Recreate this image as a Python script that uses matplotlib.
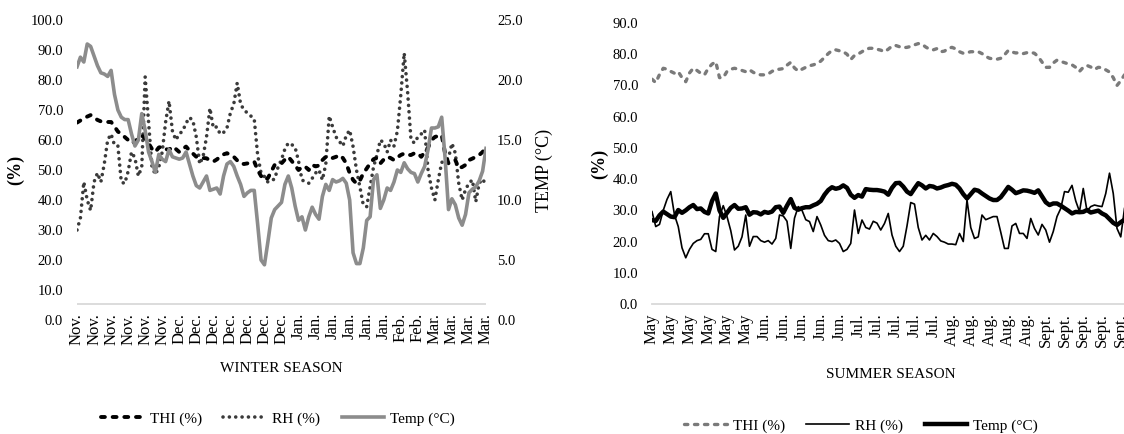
import matplotlib
matplotlib.use('Agg')
import matplotlib.pyplot as plt
import numpy as np
from matplotlib.ticker import FormatStrFormatter

plt.rcParams['font.family'] = ['Liberation Serif', 'DejaVu Serif']

# ---------------- DATA ----------------
winter_labels = ['Nov.'] * 6 + ['Dec.'] * 7 + ['Jan.'] * 6 + ['Feb.'] * 2 + ['Mar.'] * 4
summer_labels = ['May'] * 6 + ['Jun.'] * 5 + ['Jul.'] * 5 + ['Aug.'] * 5 + ['Sept.'] * 5

thi_winter = [65.8, 66.5, 67.2, 67.8, 68.3, 67.5, 66.7, 66.2, 66.1, 66.0,
              66.0, 64.5, 62.8, 62.0, 61.0, 60.0, 58.9, 59.5, 60.5, 61.5,
              60.5, 58.9, 57.0, 56.0, 57.5, 57.8, 57.0, 56.7, 57.8, 57.0,
              56.0, 57.0, 57.8, 56.5, 55.5, 54.4, 54.2, 54.0, 53.9, 53.2,
              52.8, 53.5, 54.4, 55.2, 55.6, 55.0, 54.4, 53.2, 52.2, 52.0,
              52.2, 52.5, 52.8, 50.0, 48.0, 46.7, 47.3, 49.5, 51.7, 51.9,
              52.2, 53.5, 54.4, 53.0, 51.5, 50.0, 51.0, 51.1, 50.0, 51.7,
              51.2, 51.5, 53.3, 54.4, 54.0, 54.0, 54.4, 55.0, 54.0, 52.2,
              49.0, 46.7, 45.5, 46.5, 48.9, 50.5, 52.2, 53.6, 54.0, 52.2,
              53.5, 54.4, 54.0, 53.3, 54.2, 55.0, 55.5, 55.0, 55.0, 55.6,
              55.6, 54.4, 56.0, 57.5, 60.0, 61.0, 61.4, 61.7, 55.5, 52.2,
              52.8, 53.3, 50.6, 51.0, 51.7, 53.3, 53.8, 54.4, 55.0, 56.0,
              57.8]

rh_winter = [30.0, 34.0, 46.0, 40.0, 36.5, 46.0, 49.0, 46.0, 52.0, 60.0,
             62.0, 58.3, 58.0, 46.0, 45.5, 49.5, 56.0, 54.0, 48.0, 51.0,
             81.0, 66.0, 51.0, 48.5, 51.0, 56.0, 66.0, 73.0, 63.0, 60.0,
             62.0, 63.0, 65.6, 67.5, 66.5, 61.0, 52.0, 54.5, 61.0, 70.6,
             64.0, 64.4, 62.0, 62.5, 64.0, 69.0, 72.0, 79.0, 72.0, 70.0,
             69.0, 68.0, 67.0, 55.0, 49.0, 47.8, 46.0, 46.5, 47.0, 51.0,
             53.5, 57.0, 59.0, 58.5, 57.5, 53.0, 46.7, 46.0, 45.6, 47.2,
             49.0, 50.0, 46.7, 52.0, 68.0, 64.4, 61.0, 59.5, 58.0, 61.5,
             63.3, 57.8, 50.0, 44.4, 38.3, 37.8, 44.4, 51.0, 55.0, 60.0,
             59.0, 56.0, 60.0, 58.0, 63.0, 75.0, 89.0, 76.0, 60.0, 59.0,
             61.0, 62.0, 63.3, 50.0, 44.0, 40.0, 46.7, 52.5, 53.3, 54.0,
             58.9, 55.6, 45.6, 40.0, 43.5, 45.6, 46.7, 39.4, 45.6, 47.0,
             45.0]

temp_winter = [21.1, 21.9, 21.5, 23.0, 22.8, 22.0, 21.2, 20.6, 20.5, 20.3,
               20.8, 18.8, 17.5, 16.9, 16.7, 16.7, 15.5, 14.5, 15.0, 17.2,
               15.8, 14.0, 13.2, 12.3, 13.8, 13.4, 13.2, 14.2, 13.6, 13.5,
               13.4, 13.5, 14.0, 13.0, 12.0, 11.2, 11.0, 11.5, 12.0, 10.8,
               10.9, 11.0, 10.5, 12.0, 13.0, 13.2, 12.8, 12.0, 11.3, 10.3,
               10.6, 10.8, 10.8, 8.0, 5.0, 4.6, 6.5, 8.5, 9.2, 9.5,
               9.8, 11.3, 12.0, 11.0, 9.5, 8.3, 8.6, 7.5, 8.6, 9.4,
               8.8, 8.4, 10.3, 11.3, 10.8, 11.7, 11.5, 11.6, 11.8, 11.4,
               10.0, 5.6, 4.7, 4.7, 6.0, 8.3, 8.6, 11.7, 12.1, 9.3,
               10.0, 11.0, 10.8, 11.5, 12.5, 12.3, 13.1, 12.6, 12.3, 12.2,
               11.5, 12.2, 12.8, 14.2, 16.0, 16.0, 16.1, 16.9, 13.5, 9.2,
               10.1, 9.6, 8.5, 7.9, 8.8, 10.6, 10.9, 11.1, 11.6, 12.4,
               14.3]

thi_summer = [72.0, 70.9, 73.5, 75.5, 75.2, 74.5, 73.9, 74.4, 72.5, 71.2,
              74.0, 75.5, 74.8, 73.9, 73.4, 75.5, 76.8, 77.6, 72.5, 72.5,
              74.5, 75.2, 75.5, 75.2, 74.8, 74.4, 75.0, 74.2, 73.6, 73.4,
              73.4, 73.7, 74.5, 75.1, 75.2, 75.4, 76.5, 77.4, 75.6, 74.6,
              75.2, 75.8, 76.3, 76.6, 77.0, 77.8, 79.0, 80.2, 81.2, 81.4,
              81.1, 80.8, 80.0, 78.3, 79.6, 80.1, 80.8, 81.6, 81.9, 81.9,
              81.6, 81.3, 80.8, 81.6, 82.6, 82.8, 82.4, 82.1, 82.2, 82.5,
              83.0, 83.4, 83.2, 82.3, 81.6, 81.4, 81.8, 80.8, 81.0, 81.9,
              82.2, 81.7, 80.8, 80.3, 80.5, 80.8, 80.8, 80.8, 80.2, 79.3,
              78.7, 78.5, 78.4, 78.7, 79.8, 81.2, 80.7, 80.4, 80.5, 80.2,
              80.5, 80.6, 80.3, 79.2, 77.5, 75.8, 75.8, 77.2, 78.1, 77.7,
              77.3, 76.9, 76.6, 75.8, 74.5, 75.8, 76.4, 75.9, 75.1, 75.8,
              75.7, 75.0, 74.3, 72.5, 70.0, 71.5, 73.4]

rh_summer = [29.6, 24.8, 25.5, 30.0, 33.5, 36.0, 28.5, 24.8, 18.0, 14.8,
             17.5, 19.4, 20.3, 20.7, 22.5, 22.5, 17.5, 16.8, 28.0, 31.5,
             28.0, 23.5, 17.3, 18.5, 21.5, 28.5, 18.5, 21.6, 21.6, 20.3,
             19.8, 20.3, 19.2, 21.0, 28.5, 28.2, 26.5, 17.8, 27.5, 31.2,
             30.0, 27.0, 26.4, 23.2, 28.0, 25.3, 22.0, 20.3, 20.0, 20.5,
             19.4, 16.8, 17.5, 19.4, 30.1, 22.6, 26.9, 24.5, 24.0, 26.5,
             25.9, 23.7, 25.8, 29.0, 22.1, 18.5, 16.8, 18.5, 25.0, 32.5,
             32.0, 24.5, 20.5, 22.0, 20.5, 22.6, 21.6, 20.2, 19.8, 19.2,
             19.2, 19.0, 22.6, 20.0, 33.3, 24.5, 21.0, 21.5, 28.5, 27.0,
             27.5, 28.0, 28.0, 23.0, 17.8, 17.8, 25.0, 25.8, 22.6, 22.6,
             21.0, 27.4, 24.2, 22.1, 25.5, 23.7, 19.8, 23.2, 28.0, 30.6,
             36.0, 35.8, 38.0, 33.0, 29.6, 37.0, 29.8, 31.2, 31.7, 31.4,
             31.2, 35.4, 41.9, 35.4, 24.2, 21.5, 30.6]

temp_summer = [26.9, 26.6, 28.4, 29.6, 28.8, 28.0, 27.8, 30.1, 29.2, 30.0,
               31.0, 31.7, 30.4, 30.6, 29.5, 29.0, 33.0, 35.4, 30.0, 27.6,
               29.2, 30.8, 31.7, 30.5, 30.6, 31.0, 28.6, 29.4, 29.3, 28.7,
               29.5, 29.2, 29.6, 31.0, 31.2, 29.2, 31.5, 33.6, 30.8, 30.2,
               30.7, 31.0, 31.0, 31.6, 32.1, 33.0, 35.0, 36.5, 37.4, 36.9,
               37.2, 38.0, 37.2, 35.0, 34.0, 34.9, 34.4, 36.8, 36.6, 36.5,
               36.5, 36.3, 36.0, 35.0, 37.2, 38.7, 38.8, 37.6, 36.0, 35.2,
               37.0, 38.7, 38.0, 37.0, 37.8, 37.6, 37.0, 37.3, 37.8, 38.1,
               38.5, 38.2, 37.0, 35.2, 33.8, 35.2, 36.6, 36.3, 35.4, 34.6,
               33.8, 33.3, 33.3, 34.2, 35.8, 37.5, 36.6, 35.5, 35.9, 36.4,
               36.3, 36.0, 35.6, 36.4, 34.5, 32.6, 31.7, 32.2, 32.2, 31.5,
               30.7, 29.9, 29.0, 29.5, 29.4, 29.5, 30.1, 29.3, 29.6, 29.9,
               29.0, 28.4, 27.2, 26.0, 25.3, 26.2, 27.0]

legend_labels = ['THI (%)', 'RH (%)', 'Temp (°C)']

# ---------------- FIGURE ----------------
W, H = 1124, 434
fig = plt.figure(figsize=(W / 100, H / 100), dpi=100)
AXIS_GRAY = '#d9d9d9'

# ---- Winter panel ----
ax1 = fig.add_axes([77 / W, 1 - 320 / H, 409 / W, 300 / H])
xw = np.arange(len(thi_winter))
l1, = ax1.plot(xw, thi_winter, color='black', lw=2.8,
               linestyle=(0, (1.0, 2.0)), dash_capstyle='round', zorder=3)
l2, = ax1.plot(xw, rh_winter, color='#3a3a3a', lw=2.6,
               linestyle=(0, (0.01, 1.75)), dash_capstyle='round', zorder=2)
ax1.set_xlim(0, len(thi_winter) - 1)
ax1.set_ylim(0, 100)
ax1.set_yticks(np.arange(0, 101, 10))
ax1.yaxis.set_major_formatter(FormatStrFormatter('%.1f'))
ax1.tick_params(axis='y', length=0, pad=10, labelsize=10.5)
ax1.set_xticks(xw[::5])
ax1.set_xticklabels(winter_labels, rotation=90, fontsize=12)
ax1.tick_params(axis='x', length=0, pad=-5)
for s in ax1.spines.values():
    s.set_visible(False)
ax1.axhline(16 / 3, color=AXIS_GRAY, lw=1.3, zorder=0)
ax1.set_ylabel('(%)', fontsize=13, fontweight='bold')
ax1.yaxis.set_label_coords(-0.128, 0.5)

ax2 = ax1.twinx()
l3, = ax2.plot(xw, temp_winter, color='#8c8c8c', lw=2.6, solid_joinstyle='round', zorder=1)
ax2.set_ylim(0, 25)
ax2.set_yticks(np.arange(0, 26, 5))
ax2.yaxis.set_major_formatter(FormatStrFormatter('%.1f'))
ax2.tick_params(axis='y', length=0, pad=8, labelsize=10.5)
for s in ax2.spines.values():
    s.set_visible(False)
ax2.set_ylabel('TEMP (°C)', fontsize=13)
ax2.yaxis.set_label_coords(1.122, 0.5)

fig.text(281 / W, 1 - 369 / H, 'WINTER SEASON', ha='center', va='center', fontsize=11)
fig.legend([l1, l2, l3], legend_labels, loc='center', bbox_to_anchor=(278 / W, 1 - 419 / H),
           ncol=3, frameon=False, fontsize=11, handlelength=2.8, handletextpad=0.4,
           columnspacing=1.4)

# ---- Summer panel ----
ax3 = fig.add_axes([652 / W, 1 - 304 / H, 3.75 * 128 / W, 281 / H])
xs = np.arange(len(thi_summer))
l4, = ax3.plot(xs, thi_summer, color='#7a7a7a', lw=2.4,
               linestyle=(0, (1.0, 2.0)), dash_capstyle='round', zorder=2)
l5, = ax3.plot(xs, rh_summer, color='black', lw=1.2, zorder=2)
l6, = ax3.plot(xs, temp_summer, color='black', lw=3.2, solid_joinstyle='round', zorder=3)
ax3.set_xlim(0, 128)
ax3.set_ylim(0, 90)
ax3.set_yticks(np.arange(0, 91, 10))
ax3.yaxis.set_major_formatter(FormatStrFormatter('%.1f'))
ax3.tick_params(axis='y', length=0, pad=10, labelsize=10.5)
ax3.set_xticks(xs[::5][:len(summer_labels)])
ax3.set_xticklabels(summer_labels, rotation=90, fontsize=12)
ax3.tick_params(axis='x', length=0, pad=6.5)
for s in ax3.spines.values():
    s.set_visible(False)
ax3.axhline(0, color=AXIS_GRAY, lw=1.3, zorder=0, clip_on=False)
ax3.set_ylabel('(%)', fontsize=13, fontweight='bold')
ax3.yaxis.set_label_coords(-0.092, 0.5)

fig.text(891 / W, 1 - 374 / H, 'SUMMER SEASON', ha='center', va='center', fontsize=11)
fig.legend([l4, l5, l6], legend_labels, loc='center', bbox_to_anchor=(861 / W, 1 - 426 / H),
           ncol=3, frameon=False, fontsize=11, handlelength=2.8, handletextpad=0.4,
           columnspacing=1.4)

fig.savefig('out.png', dpi=100)
